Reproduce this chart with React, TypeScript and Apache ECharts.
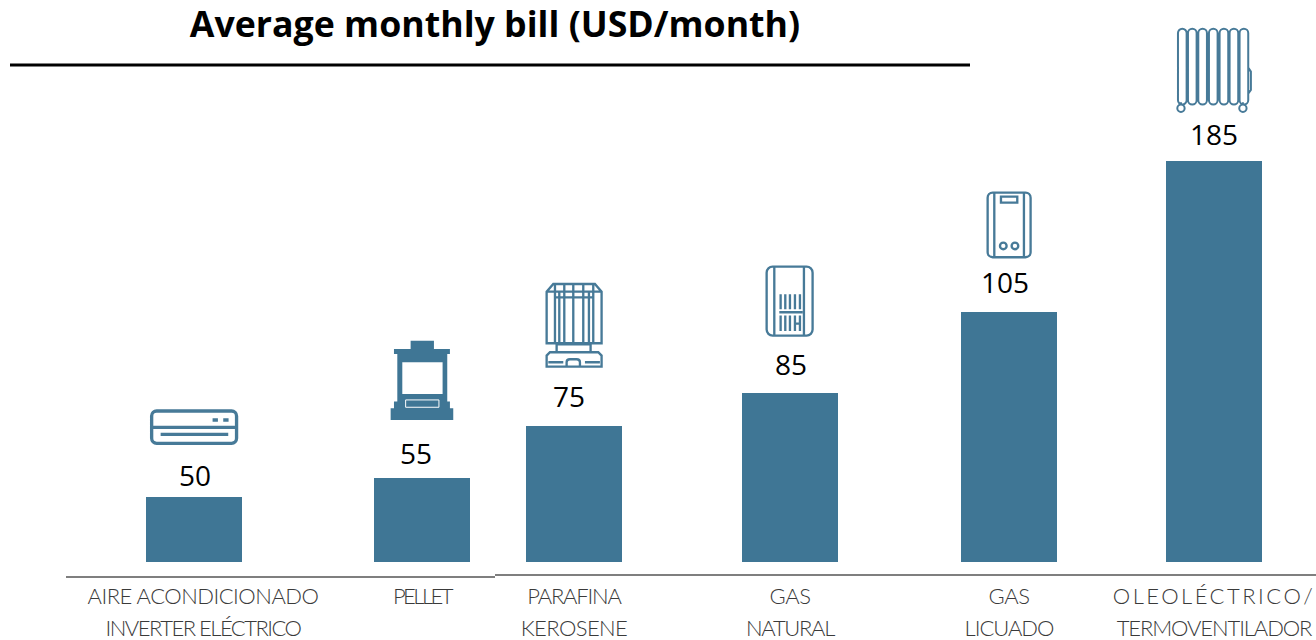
import React, { useEffect, useRef } from "react";
import * as echarts from "echarts";

const titleText = "Average monthly bill (USD/month)";
const categories = [
  "AIRE ACONDICIONADO\nINVERTER ELÉCTRICO",
  "PELLET",
  "PARAFINA\nKEROSENE",
  "GAS\nNATURAL",
  "GAS\nLICUADO",
  "OLEOLÉCTRICO/\nTERMOVENTILADOR",
];
// The labels printed above the bars.
const billValues = [50, 55, 75, 85, 105, 185];
// The drawn bars are not proportional to their printed labels: these are the heights as read.
const barHeights = [65, 84, 136, 169, 250, 401];
// The bars are unevenly spaced along the axis.
const barCentres = [194, 422, 574, 790, 1009, 1214];
const categoryCentres = [203, 422, 574, 790, 1009, 1214];
const labelOffsets = [[1, -8], [-6, -11], [-5, -16], [1, -15], [-4, -16], [0, -13]];
const lineTracking: Record<string, number> = {
  "AIRE ACONDICIONADO": -0.5,
  "INVERTER ELÉCTRICO": -1.5,
  PELLET: -2.5,
  PARAFINA: -1.2,
  KEROSENE: -0.6,
  GAS: -0.5,
  NATURAL: -1.3,
  LICUADO: -1,
  "OLEOLÉCTRICO/": 2.5,
  TERMOVENTILADOR: -1.1,
};

const BAR = "#3f7695";
const ICON = "#477a98";

function finPath(cx: number) {
  return `M${cx - 13} 256V54A13 13 0 0 1 ${cx + 13} 54V256A13 13 0 0 1 ${cx - 13} 256Z`;
}
const radiatorD =
  [97, 127, 158, 190, 222, 252, 282].map(finPath).join("") +
  "M93 262V270M279 262V270M82 280A11 11 0 1 0 104 280A11 11 0 1 0 82 280ZM268 280A11 11 0 1 0 290 280A11 11 0 1 0 268 280Z" +
  "M295 158L303 170V225L295 236";
const heaterD =
  "M98 38H197A15 15 0 0 1 212 53V217A15 15 0 0 1 197 232H98A15 15 0 0 1 83 217V53A15 15 0 0 1 98 38Z" +
  "M103 38V232M192 38V232M123 50H172V68H123Z" +
  "M120 198A10 10 0 1 0 140 198A10 10 0 1 0 120 198ZM155 198A10 10 0 1 0 175 198A10 10 0 1 0 155 198Z";
const boilerD =
  "M98 35H200A18 18 0 0 1 218 53V224A18 18 0 0 1 200 242H98A18 18 0 0 1 80 224V53A18 18 0 0 1 98 35Z" +
  "M103 35V242M192 35V242M118 172H188" +
  "M122 118V163M136 118V163M150 118V163M165 118V163M180 118V163" +
  "M122 182V228M136 182V228M150 182V228M165 182V228M180 182V228M165 206H180";
const keroseneD =
  "M80 205V50L100 27H225L245 50V205Z" +
  "M80 50H245M105 67H220M105 27V205M118 50V205M133 27V205M160 27V205M190 27V205M207 50V205M220 27V205" +
  "M110 208H212V232H110Z" +
  "M90 232H235L245 242V275H80V242Z" +
  "M85 262H130M195 262H240M140 275V262Q140 253 150 253H170Q180 253 180 262V275";
const pelletBodyD =
  "M122 32H192V57H240V72H232V215H240V235H250V270H62V235H72V215H82V72H72V57H122Z";
const pelletWindowD = "M97 97H218V192H97Z";
const pelletSlotD = "M107 210H207V232H107Z";
const acD =
  "M80 33H305A15 15 0 0 1 320 48V115A15 15 0 0 1 305 130H80A15 15 0 0 1 65 115V48A15 15 0 0 1 80 33Z" +
  "M65 82H320M92 103H295M248 60H264M280 60H296";

echarts.graphic.registerShape("iconRadiator", echarts.graphic.extendPath(radiatorD, {}));
echarts.graphic.registerShape("iconHeater", echarts.graphic.extendPath(heaterD, {}));
echarts.graphic.registerShape("iconBoiler", echarts.graphic.extendPath(boilerD, {}));
echarts.graphic.registerShape("iconKerosene", echarts.graphic.extendPath(keroseneD, {}));
echarts.graphic.registerShape("iconPelletBody", echarts.graphic.extendPath(pelletBodyD, {}));
echarts.graphic.registerShape("iconPelletWindow", echarts.graphic.extendPath(pelletWindowD, {}));
echarts.graphic.registerShape("iconPelletSlot", echarts.graphic.extendPath(pelletSlotD, {}));
echarts.graphic.registerShape("iconAc", echarts.graphic.extendPath(acD, {}));

const third = 1 / 3;
function icon(type: string, x: number, y: number, lineWidth: number) {
  return {
    type,
    x,
    y,
    scaleX: third,
    scaleY: third,
    silent: true,
    style: { fill: "none", stroke: ICON, lineWidth },
  };
}
function filled(type: string, x: number, y: number, fill: string, stroke?: string) {
  return {
    type,
    x,
    y,
    scaleX: third,
    scaleY: third,
    silent: true,
    style: { fill, stroke: stroke || "none", lineWidth: 3 },
  };
}
function rule(x1: number, x2: number, y: number, stroke: string, lineWidth: number) {
  return { type: "line", silent: true, shape: { x1, y1: y, x2, y2: y }, style: { stroke, lineWidth } };
}

export default function App() {
  const ref = useRef<HTMLDivElement>(null);
  useEffect(() => {
    document.body.style.margin = "0";
    const chart = echarts.init(ref.current!, null, { renderer: "svg" });
    const applyTracking = () => {
      ref.current?.querySelectorAll("text").forEach((t) => {
        const s = lineTracking[(t.textContent || "").trim()];
        if (s !== undefined) t.style.letterSpacing = `${s}px`;
      });
    };
    chart.on("finished", applyTracking);
    chart.setOption({
      animation: false,
      backgroundColor: "#ffffff",
      title: {
        text: titleText,
        left: 490,
        top: 0,
        textAlign: "center",
        textStyle: { fontFamily: "Open Sans", fontWeight: "bold", fontSize: 35.7, color: "#000000" },
      },
      grid: { left: 0, top: 0, width: 1316, height: 562, outerBoundsMode: "none" },
      xAxis: {
        type: "value",
        min: 0,
        max: 1316,
        splitLine: { show: false },
        axisLine: { show: false },
        axisTick: { show: false },
        axisLabel: {
          show: true,
          customValues: categoryCentres,
          margin: 17,
          hideOverlap: false,
          showMinLabel: true,
          showMaxLabel: true,
          verticalAlign: "top",
          align: "center",
          fontFamily: "Lato",
          fontWeight: 300,
          fontSize: 22,
          lineHeight: 32,
          color: "#3a3a3a",
          formatter: (v: number) => categories[categoryCentres.indexOf(v)] ?? "",
        },
      },
      yAxis: { type: "value", min: 0, max: 562, show: false },
      series: [
        {
          type: "bar",
          barWidth: 96,
          itemStyle: { color: BAR },
          data: barHeights.map((h, i) => ({
            value: [barCentres[i], h],
            label: { offset: labelOffsets[i] },
          })),
          label: {
            show: true,
            position: "top",
            distance: 0,
            fontFamily: "Open Sans",
            fontSize: 28,
            color: "#000000",
            formatter: (p: any) => String(billValues[p.dataIndex]),
          },
        },
      ],
      graphic: [
        rule(10, 970, 65, "#000000", 3),
        rule(66, 495, 577, "#7f7f7f", 2),
        rule(495, 1316, 575, "#7f7f7f", 2),
        icon("iconAc", 130, 400, 10),
        filled("iconPelletBody", 370, 330, BAR),
        filled("iconPelletWindow", 370, 330, "#ffffff"),
        filled("iconPelletSlot", 370, 330, BAR, "#ffffff"),
        icon("iconKerosene", 520, 275, 7),
        icon("iconBoiler", 740, 255, 7),
        icon("iconHeater", 960, 180, 7),
        icon("iconRadiator", 1150, 15, 6),
      ],
    });
    applyTracking();
    return () => chart.dispose();
  }, []);
  return <div ref={ref} style={{ width: 1316, height: 640 }} />;
}
